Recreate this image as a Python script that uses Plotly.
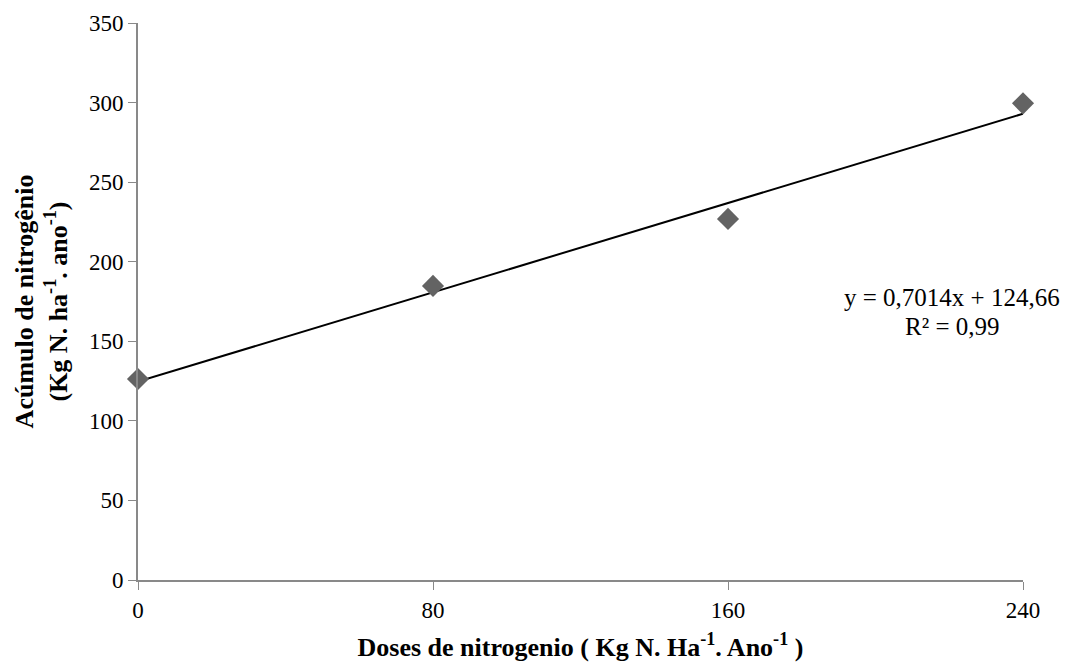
import plotly.graph_objects as go

doses = [0, 80, 160, 240]
acumulo = [126.3, 184.8, 226.9, 299.5]
slope = 0.7014
intercept = 124.66
x_ticks = [0, 80, 160, 240]
y_ticks = [0, 50, 100, 150, 200, 250, 300, 350]
eq_lines = ["y = 0,7014x + 124,66", "R² = 0,99"]

trend_x = [min(doses), max(doses)]
trend_y = [slope * v + intercept for v in trend_x]

axis_color = "#898989"
font = "Liberation Serif, Times New Roman, serif"

fig = go.Figure()
fig.add_trace(go.Scatter(x=trend_x, y=trend_y, mode="lines",
                         line=dict(color="black", width=2), showlegend=False, hoverinfo="skip"))
fig.add_trace(go.Scatter(x=doses, y=acumulo, mode="markers",
                         marker=dict(symbol="diamond", size=17, color="#636363"),
                         showlegend=False, cliponaxis=False))

for txt, yp in zip(eq_lines, [0.508, 0.456]):
    fig.add_annotation(x=0.92, y=yp, xref="paper", yref="paper", xanchor="center", yanchor="middle",
                       text=txt, showarrow=False,
                       font=dict(family=font, size=25, color="black"))

fig.update_layout(
    width=1081, height=664,
    margin=dict(l=130, r=66, t=15, b=92),
    paper_bgcolor="white", plot_bgcolor="white",
    font=dict(family=font, size=23, color="black"),
    xaxis=dict(range=[0, 240], tickvals=x_ticks, ticks="outside", ticklen=8, tickcolor=axis_color,
               showline=True, linecolor=axis_color, linewidth=2, showgrid=False, zeroline=False,
               automargin=False,
               tickfont=dict(family=font, size=23, color="black"),
               title=dict(text="<b>Doses de nitrogenio ( Kg N. Ha<sup>-1</sup>. Ano<sup>-1</sup> )</b>",
                          font=dict(family=font, size=26, color="black"), standoff=16)),
    yaxis=dict(range=[0, 350], tickvals=y_ticks, ticks="outside", ticklen=8, tickcolor=axis_color,
               showline=True, linecolor=axis_color, linewidth=2, showgrid=False, zeroline=False,
               automargin=False,
               tickfont=dict(family=font, size=23, color="black"),
               title=dict(text="<b>Acúmulo de nitrogênio<br>(Kg N. ha<sup>-1</sup>. ano<sup>-1</sup>)</b>",
                          font=dict(family=font, size=26, color="black"), standoff=14)),
)

fig.write_html("out.html")
